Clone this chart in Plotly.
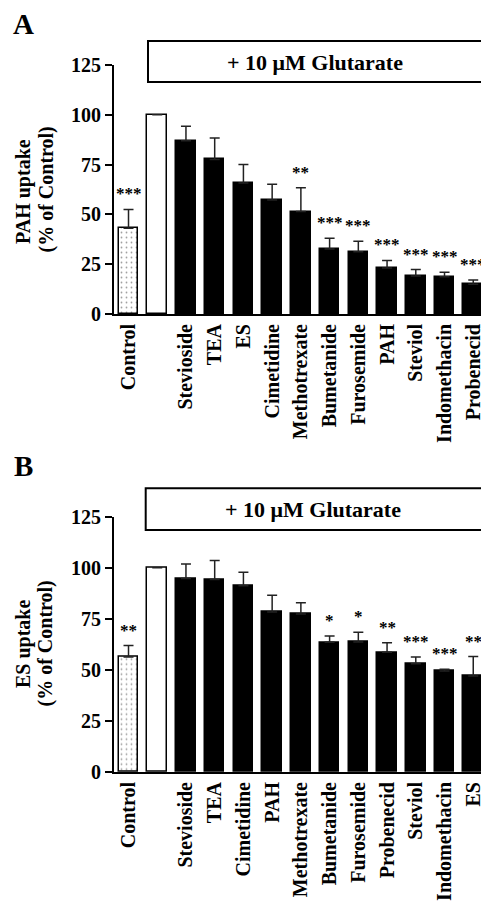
import plotly.graph_objects as go

# ---------------- data ----------------
labels_a = ["Control", "", "Stevioside", "TEA", "ES", "Cimetidine", "Methotrexate",
            "Bumetanide", "Furosemide", "PAH", "Steviol", "Indomethacin", "Probenecid"]
values_a = [43.0, 100.0, 87.0, 77.6, 65.8, 57.2, 51.4, 32.6, 31.3, 23.1, 19.1, 18.7, 14.9]
errors_a = [9.5, None, 7.2, 10.8, 9.3, 7.9, 12.0, 5.4, 5.2, 3.8, 3.2, 2.2, 2.2]
stars_a = ["***", "", "", "", "", "", "**", "***", "***", "***", "***", "***", "***"]

labels_b = ["Control", "", "Stevioside", "TEA", "Cimetidine", "PAH", "Methotrexate",
            "Bumetanide", "Furosemide", "Probenecid", "Steviol", "Indomethacin", "ES"]
values_b = [56.3, 100.0, 94.7, 94.3, 91.2, 78.3, 77.4, 63.5, 63.7, 58.6, 53.0, 49.5, 47.0]
errors_b = [5.6, None, 7.1, 9.3, 6.6, 8.2, 5.5, 3.1, 4.7, 4.7, 3.3, 0.8, 9.5]
stars_b = ["**", "", "", "", "", "", "", "*", "*", "**", "***", "***", "**"]

ytitle_a = ["PAH uptake", "(% of Control)"]
ytitle_b = ["ES uptake", "(% of Control)"]
box_text = "+ 10 \u03bcM Glutarate"
y_ticks = [0, 25, 50, 75, 100, 125]

FONT = "Liberation Serif, Times New Roman, serif"
W, H = 481, 903


def px_x(p):
    return p / W


def px_y(p):
    return (H - p) / H


fig = go.Figure()


def add_panel(values, errors, xa, ya):
    n = len(values)
    colors = ["white", "white"] + ["black"] * (n - 2)
    shapes = ["."] + [""] * (n - 1)
    fig.add_trace(go.Bar(
        x=list(range(n)), y=values, width=0.68,
        xaxis=xa, yaxis=ya,
        marker=dict(color=colors, line=dict(color="black", width=1.5),
                    pattern=dict(shape=shapes, fgcolor="black", bgcolor="white",
                                 size=5, solidity=0.1)),
        error_y=dict(type="data", symmetric=False, array=errors,
                     arrayminus=[0] * n, color="#222222", thickness=1.5, width=5),
        showlegend=False,
    ))


add_panel(values_a, errors_a, "x", "y")
add_panel(values_b, errors_b, "x2", "y2")

x_dom = [px_x(114), 1.0]
xrange = [-0.505, 12.27]

common_x = dict(range=xrange, showline=True, linecolor="black", linewidth=2,
                ticks="", showgrid=False, zeroline=False, tickangle=-90,
                ticklabeloverflow="allow",
                tickfont=dict(family=FONT, size=20, color="black", weight="bold"),
                automargin=False)
common_y = dict(range=[0, 125], tickvals=y_ticks, showline=True, linecolor="black",
                linewidth=2, ticks="outside", ticklen=7, tickwidth=2, tickcolor="black",
                showgrid=False, zeroline=False,
                tickfont=dict(family=FONT, size=20, color="black", weight="bold"),
                automargin=False)

fig.update_layout(
    width=W, height=H,
    margin=dict(l=0, r=0, t=0, b=0),
    paper_bgcolor="white", plot_bgcolor="white",
    bargap=0,
    xaxis=dict(domain=x_dom, anchor="y", tickvals=list(range(len(labels_a))),
               ticktext=labels_a, **common_x),
    yaxis=dict(domain=[px_y(314), px_y(65)], anchor="x", **common_y),
    xaxis2=dict(domain=x_dom, anchor="y2", tickvals=list(range(len(labels_b))),
                ticktext=labels_b, **common_x),
    yaxis2=dict(domain=[px_y(772), px_y(516.7)], anchor="x2", **common_y),
)

annotations = []


def star_annots(values, errors, stars, xref, yref):
    for i, (v, e, s) in enumerate(zip(values, errors, stars)):
        if s:
            annotations.append(dict(
                x=i, y=v + (e or 0), xref=xref, yref=yref, text=s, showarrow=False,
                yanchor="bottom", xanchor="center", yshift=4,
                font=dict(family=FONT, size=17, color="black", weight="bold")))


star_annots(values_a, errors_a, stars_a, "x", "y")
star_annots(values_b, errors_b, stars_b, "x2", "y2")

# y-axis titles (two lines each)
for (line, xc, yc) in [(ytitle_a[0], 24, 192), (ytitle_a[1], 45.5, 190),
                       (ytitle_b[0], 24, 644), (ytitle_b[1], 45.5, 644)]:
    annotations.append(dict(x=px_x(xc), y=px_y(yc), xref="paper", yref="paper",
                            text=line, textangle=-90, showarrow=False,
                            xanchor="center", yanchor="middle",
                            font=dict(family=FONT, size=20, color="black", weight="bold")))

# panel letters
for (letter, xc, yc) in [("A", 23, 24), ("B", 23, 466)]:
    annotations.append(dict(x=px_x(xc), y=px_y(yc), xref="paper", yref="paper",
                            text=letter, showarrow=False, xanchor="center", yanchor="middle",
                            font=dict(family=FONT, size=29, color="black", weight="bold")))

# glutarate boxes
shapes = []
for (x0, y0, y1, tx, ty) in [(148, 41, 82, 315, 62), (145.7, 488.3, 530, 313, 510)]:
    shapes.append(dict(type="rect", xref="paper", yref="paper",
                       x0=px_x(x0), x1=1.1, y0=px_y(y1), y1=px_y(y0),
                       line=dict(color="black", width=2), fillcolor="white"))
    annotations.append(dict(x=px_x(tx), y=px_y(ty), xref="paper", yref="paper",
                            text=box_text, showarrow=False, xanchor="center", yanchor="middle",
                            font=dict(family=FONT, size=22, color="black", weight="bold")))

fig.update_layout(annotations=annotations, shapes=shapes)

fig.write_html("out.html", config={"displayModeBar": False},
               post_script="document.body.style.margin='0';document.body.style.overflow='hidden';")
